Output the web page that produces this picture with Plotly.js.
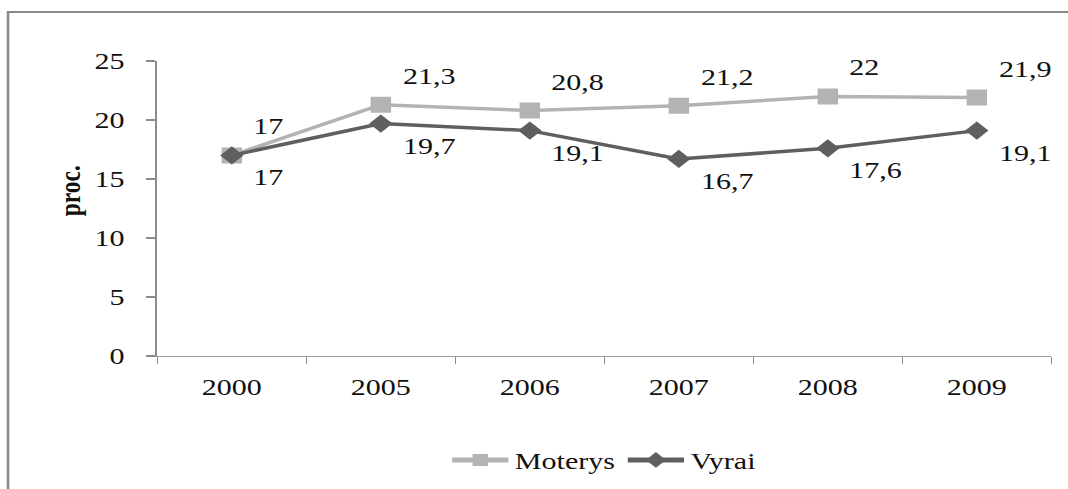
<!DOCTYPE html>
<html>
<head>
<meta charset="utf-8">
<script src="https://cdn.plot.ly/plotly-3.0.1.min.js"></script>
<style>
  html, body { margin: 0; padding: 0; background: #ffffff; overflow: hidden; }
  #chart { width: 835px; height: 489px; transform: scaleX(1.279); transform-origin: 0 0; }
</style>
</head>
<body>
<div id="chart"></div>
<script>
// Data
const years = ['2000', '2005', '2006', '2007', '2008', '2009'];
const moterys = [17, 21.3, 20.8, 21.2, 22, 21.9];
const vyrai = [17, 19.7, 19.1, 16.7, 17.6, 19.1];
const yTicks = [0, 5, 10, 15, 20, 25];
const seriesNames = ['Moterys', 'Vyrai'];
const yTitle = 'proc.';

const FONT = '"Liberation Serif", "Times New Roman", serif';
const FS = 23.5;
const fmt = v => String(v).replace('.', ',');

const traces = [
  {
    x: years, y: moterys, name: seriesNames[0], type: 'scatter', mode: 'lines+markers',
    line: { color: '#b3b3b3', width: 3.5 },
    marker: { symbol: 'square', size: 16, color: '#b3b3b3' },
    hoverinfo: 'skip'
  },
  {
    x: years, y: vyrai, name: seriesNames[1], type: 'scatter', mode: 'lines+markers',
    line: { color: '#5f5f5f', width: 3.5 },
    marker: { symbol: 'diamond', size: 14, color: '#5f5f5f' },
    hoverinfo: 'skip'
  }
];

const annotations = [];
years.forEach((yr, i) => {
  annotations.push({
    x: i, y: moterys[i], xref: 'x', yref: 'y', text: fmt(moterys[i]),
    showarrow: false, xanchor: 'left', yanchor: 'middle', xshift: 15, yshift: 29,
    font: { family: FONT, size: FS, color: '#111111' }
  });
  annotations.push({
    x: i, y: vyrai[i], xref: 'x', yref: 'y', text: fmt(vyrai[i]),
    showarrow: false, xanchor: 'left', yanchor: 'middle', xshift: 15, yshift: -22,
    font: { family: FONT, size: FS, color: '#111111' }
  });
});
annotations.push({
  x: -0.098, y: 0.56, xref: 'paper', yref: 'paper', text: '<b>' + yTitle + '</b>',
  textangle: -90, showarrow: false, xanchor: 'center', yanchor: 'middle',
  font: { family: FONT, size: FS, color: '#111111' }
});

const layout = {
  width: 835, height: 489,
  margin: { l: 123, r: 13, t: 61, b: 133, pad: 0, autoexpand: false },
  paper_bgcolor: '#ffffff', plot_bgcolor: '#ffffff',
  font: { family: FONT, size: FS, color: '#111111' },
  showlegend: true,
  legend: {
    orientation: 'h', x: 0.5, xanchor: 'center', y: -0.353, yanchor: 'middle',
    font: { family: FONT, size: FS, color: '#111111' }, traceorder: 'normal',
    itemwidth: 44, itemsizing: 'constant'
  },
  xaxis: {
    type: 'category', range: [-0.5, 5.5], tickson: 'boundaries',
    ticks: 'outside', ticklen: 7, tickcolor: '#8c8c8c', tickwidth: 1.2,
    showline: true, linecolor: '#9a9a9a', linewidth: 1.3,
    showgrid: false, zeroline: false, ticklabelstandoff: 10,
    tickfont: { family: FONT, size: FS, color: '#111111' }, fixedrange: true
  },
  yaxis: {
    range: [0, 25], tickvals: yTicks, ticktext: yTicks.map(String),
    ticks: 'outside', ticklen: 7, tickcolor: '#8c8c8c', tickwidth: 1.2,
    showline: true, linecolor: '#8c8c8c', linewidth: 2,
    showgrid: false, zeroline: false, ticklabelstandoff: 12,
    tickfont: { family: FONT, size: FS, color: '#111111' }, fixedrange: true
  },
  shapes: [
    { type: 'rect', xref: 'paper', yref: 'paper', x0: -0.167, x1: 1.3, y0: -1.0, y1: 1.166,
      line: { color: '#8a8a8a', width: 2 }, fillcolor: 'rgba(0,0,0,0)', layer: 'below' }
  ],
  annotations: annotations
};

Plotly.newPlot('chart', traces, layout, { displayModeBar: false, staticPlot: true });
</script>
</body>
</html>
